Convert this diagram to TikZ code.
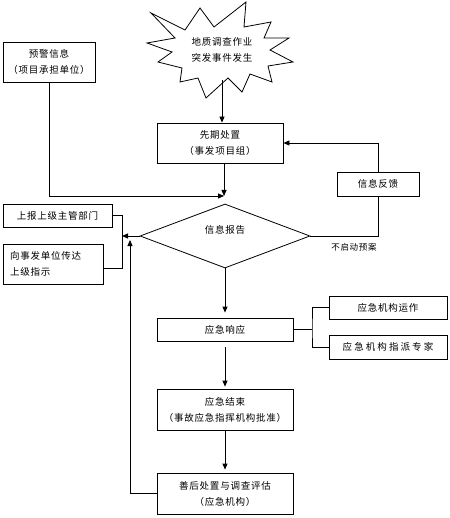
\documentclass[tikz,border=0pt]{standalone}
\usepackage{fontspec}
\setmainfont[LetterSpace=8]{Noto Sans CJK SC}
\newfontfamily\widecjk[LetterSpace=22]{Noto Sans CJK SC}
\usetikzlibrary{arrows.meta,shapes.geometric}
\begin{document}
\begin{tikzpicture}[x=1pt,y=-1pt,
  every node/.style={font=\fontsize{9.5}{16}\selectfont},
  box/.style={draw,line width=0.8pt,rectangle,inner sep=0pt,align=center},
  ln/.style={line width=0.8pt},
  arr/.style={line width=0.8pt,-{Triangle[length=6pt,width=5pt]}}]
\useasboundingbox (0,0) rectangle (449,518);
% starburst
\draw[line width=0.8pt,fill=white] (151,13) -- (185,30) -- (200,8) -- (214,27) -- (246,2) -- (244,27) -- (271,22) -- (264,38) -- (289,38) -- (270,50) -- (293,62) -- (268,66) -- (272,82) -- (250,74) -- (242,92) -- (228,78) -- (206,98) -- (198,78) -- (180,82) -- (182,68) -- (158,62) -- (172,52) -- (147,43) -- (175,38) -- cycle;
\node[align=center] (burst) at (222,50) {地质调查作业\\突发事件发生};
\coordinate (bs) at (222,80);
% nodes
\node[box,minimum width=92,minimum height=40] (warn) at (49,62) {预警信息\\（项目承担单位）};
\node[box,minimum width=126,minimum height=40] (first) at (220,143) {先期处置\\（事发项目组）};
\node[box,minimum width=82,minimum height=24] (fb) at (378,184) {信息反馈};
\node[draw,line width=0.8pt,diamond,aspect=2.65,minimum width=170,minimum height=64,inner sep=0pt] (rep) at (225,236) {};
\node at (225,230) (reptext) {信息报告};
\node[box,minimum width=109,minimum height=23] (up) at (57.5,215.5) {上报上级主管部门};
\node[box,minimum width=100,minimum height=40,align=left,text width=86] (down) at (53,264) {向事发单位传达\\上级指示};
\node[font=\fontsize{8.5}{10}\selectfont] (no) at (354,247) {不启动预案};
\node[box,minimum width=136,minimum height=23] (resp) at (225,329.5) {应急响应};
\node[box,minimum width=118,minimum height=23] (op) at (388,307.5) {应急机构运作};
\node[box,minimum width=118,minimum height=24,font=\widecjk\fontsize{9.5}{16}\selectfont] (exp) at (388,347) {应急机构指派专家};
\node[box,minimum width=136,minimum height=41] (end) at (225,409.5) {应急结束\\（事故应急指挥机构批准）};
\node[box,minimum width=136,minimum height=41] (after) at (225,493.5) {善后处置与调查评估\\（应急机构）};
% coordinates
\coordinate (j) at (224,196);
\coordinate (bkt) at (122,215.5);
\coordinate (bkb) at (122,268);
\coordinate (fbk) at (130,240);
\coordinate (rb) at (312,329.5);
% connectors
\draw[arr] (bs) -- (first.north -| bs);
\draw[arr] (first.south -| j) -- (j);
\draw[arr] (warn.south) |- (j);
\draw[ln] (rep.east) -| (fb.south);
\draw[arr] (fb.north) |- (first.east);
\draw[ln] (up.east) -- (bkt) -- (bkb) -- (bkb -| down.east);
\draw[arr] (rep.west) -- (rep.west -| bkt);
\draw[arr] (after.west) -| (fbk);
\draw[arr,shorten >=5pt] (rep.south) -- (resp.north);
\draw[ln] (resp.east) -- (rb);
\draw[ln] (op.west) -| (rb) |- (exp.west);
\draw[arr,shorten <=6pt,shorten >=2pt] (resp.south) -- (end.north);
\draw[arr,shorten >=3pt] (end.south) -- (after.north);
\end{tikzpicture}
\end{document}
